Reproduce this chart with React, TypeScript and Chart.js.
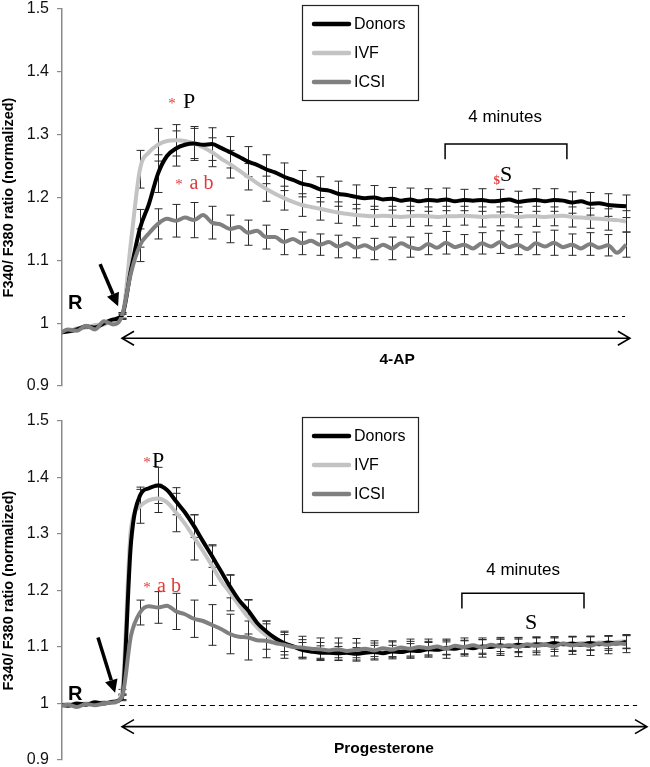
import React, { useEffect, useRef } from "react";
import { Chart, registerables } from "chart.js";

Chart.register(...registerables);

// ---------- data ----------
const SERIES = ["Donors", "IVF", "ICSI"];
const COLORS = ["#000000", "#c3c3c3", "#808080"];
const ORDERS = [1, 2, 0];

// time axis (arbitrary units, 3 units per sample)
const TIME = [-21, -18, -15, -12, -9, -6, -3, 0, 3, 6, 9, 12, 15, 18, 21, 24, 27, 30, 33, 36, 39, 42, 45, 48, 51, 54, 57, 60, 63, 66, 69, 72, 75, 78, 81, 84, 87, 90, 93, 96, 99, 102, 105, 108, 111, 114, 117, 120, 123, 126, 129, 132, 135, 138, 141, 144, 147, 150, 153, 156, 159, 162, 165, 168];
// times at which error bars are shown
const ERR_TIME = [0, 6, 12, 18, 24, 30, 36, 42, 48, 54, 60, 66, 72, 78, 84, 90, 96, 102, 108, 114, 120, 126, 132, 138, 144, 150, 156, 162, 168];

const Y_MIN = 0.9;
const Y_MAX = 1.5;
const Y_STEP = 0.1;

// ----- panel A (4-AP) -----
const TOP_DONORS = [0.985, 0.987, 0.99, 0.995, 0.993, 1.0, 1.006, 1.012,
  1.085, 1.151, 1.19, 1.238, 1.266, 1.278, 1.284, 1.286, 1.284, 1.285,
  1.279, 1.272, 1.265, 1.257, 1.252, 1.245, 1.24, 1.233, 1.228, 1.222,
  1.219, 1.213, 1.211, 1.206, 1.204, 1.201, 1.199, 1.2, 1.197, 1.198,
  1.195, 1.197, 1.194, 1.196, 1.195, 1.197, 1.194, 1.196, 1.195, 1.196,
  1.194, 1.195, 1.197, 1.193, 1.195, 1.196, 1.194, 1.196, 1.195, 1.192,
  1.194, 1.19, 1.191, 1.188, 1.187, 1.186];
const TOP_IVF = [0.988, 0.986, 0.992, 0.993, 0.997, 0.998, 1.004, 1.01,
  1.13, 1.245, 1.272, 1.284, 1.29, 1.291, 1.29, 1.286, 1.28, 1.272,
  1.262, 1.253, 1.243, 1.233, 1.223, 1.214, 1.206, 1.199, 1.193, 1.188,
  1.185, 1.182, 1.179, 1.176, 1.174, 1.172,
  1.171, 1.17, 1.171, 1.17, 1.169, 1.17, 1.171, 1.17, 1.169, 1.17,
  1.17, 1.171, 1.17, 1.169, 1.17, 1.17, 1.171, 1.169, 1.17, 1.17,
  1.169, 1.17, 1.171, 1.169, 1.168, 1.167, 1.166, 1.165, 1.164, 1.162];
const TOP_ICSI = [0.983, 0.99, 0.988, 0.996, 0.99, 1.003, 0.998, 1.012,
  1.08, 1.124, 1.143, 1.158, 1.166, 1.163, 1.168, 1.164, 1.172, 1.16,
  1.157, 1.15, 1.153, 1.144, 1.147, 1.137, 1.137, 1.129, 1.134, 1.127,
  1.131, 1.125, 1.129, 1.122, 1.127, 1.12, 1.124, 1.118, 1.125, 1.119,
  1.127, 1.121, 1.118, 1.126, 1.12, 1.128, 1.121, 1.125, 1.119, 1.127,
  1.122, 1.129, 1.121, 1.125, 1.118, 1.127, 1.122, 1.128, 1.121, 1.125,
  1.119, 1.126, 1.12, 1.124, 1.112, 1.125];
const TOP_DONORS_ERR = [0.004, 0.03, 0.03, 0.028, 0.027, 0.026, 0.025, 0.024, 0.023, 0.022, 0.021, 0.02, 0.02, 0.019, 0.019, 0.018, 0.018, 0.018, 0.018, 0.017, 0.018, 0.018, 0.017, 0.018, 0.018, 0.017, 0.018, 0.018, 0.018];
const TOP_IVF_ERR = [0.004, 0.03, 0.026, 0.025, 0.024, 0.023, 0.022, 0.021, 0.02, 0.019, 0.018, 0.018, 0.017, 0.017, 0.016, 0.016, 0.016, 0.015, 0.016, 0.015, 0.016, 0.015, 0.016, 0.016, 0.015, 0.016, 0.016, 0.017, 0.017];
const TOP_ICSI_ERR = [0.005, 0.026, 0.024, 0.026, 0.028, 0.026, 0.022, 0.02, 0.019, 0.02, 0.018, 0.017, 0.018, 0.016, 0.017, 0.018, 0.016, 0.017, 0.018, 0.016, 0.017, 0.018, 0.016, 0.018, 0.02, 0.017, 0.018, 0.017, 0.02];

// ----- panel B (Progesterone) -----
const BOT_DONORS = [0.998, 0.996, 1.0, 0.998, 1.002, 1.0, 1.003, 1.01,
  1.285, 1.368, 1.381, 1.386, 1.378, 1.358, 1.338, 1.314, 1.287, 1.261,
  1.234, 1.207, 1.183, 1.165, 1.143, 1.128, 1.116, 1.107, 1.101, 1.095,
  1.092, 1.09, 1.09, 1.089, 1.09, 1.088, 1.09, 1.091, 1.089, 1.092,
  1.091, 1.094, 1.093, 1.096, 1.095, 1.098, 1.097, 1.1, 1.098, 1.101,
  1.1, 1.103, 1.101, 1.104, 1.102, 1.105, 1.104, 1.107, 1.105, 1.106,
  1.104, 1.107, 1.105, 1.108, 1.106, 1.109];
const BOT_IVF = [0.997, 0.999, 0.997, 1.0, 0.999, 1.002, 1.001, 1.02,
  1.31, 1.349, 1.36, 1.363, 1.356, 1.338, 1.318, 1.294, 1.27, 1.244,
  1.217, 1.196, 1.174, 1.153, 1.135, 1.121, 1.112, 1.106, 1.101, 1.097,
  1.095, 1.094, 1.093, 1.094, 1.092, 1.094, 1.093, 1.095, 1.094, 1.096,
  1.095, 1.097, 1.096, 1.098, 1.097, 1.099, 1.1, 1.099, 1.101, 1.1,
  1.102, 1.101, 1.103, 1.102, 1.104, 1.103, 1.105, 1.104, 1.106, 1.105,
  1.107, 1.106, 1.108, 1.107, 1.109, 1.11];
const BOT_ICSI = [0.995, 0.998, 0.994, 0.999, 0.997, 1.0, 1.002, 1.012,
  1.12, 1.161, 1.172, 1.17, 1.173, 1.163, 1.158, 1.15, 1.146, 1.139,
  1.132, 1.123, 1.118, 1.117, 1.112, 1.111, 1.107, 1.104, 1.1, 1.099,
  1.097, 1.096, 1.094, 1.096, 1.093, 1.095, 1.097, 1.094, 1.098, 1.095,
  1.099, 1.097, 1.1, 1.098, 1.101, 1.097, 1.102, 1.1, 1.103, 1.099,
  1.104, 1.101, 1.103, 1.1, 1.105, 1.102, 1.104, 1.101, 1.106, 1.103,
  1.105, 1.102, 1.106, 1.104, 1.107, 1.105];
const BOT_DONORS_ERR = [0.005, 0.015, 0.032, 0.024, 0.02, 0.02, 0.02, 0.019, 0.018, 0.015, 0.013, 0.012, 0.012, 0.011, 0.012, 0.011, 0.012, 0.012, 0.011, 0.012, 0.012, 0.011, 0.012, 0.012, 0.011, 0.012, 0.012, 0.011, 0.012];
const BOT_IVF_ERR = [0.005, 0.03, 0.025, 0.034, 0.04, 0.035, 0.032, 0.03, 0.025, 0.02, 0.016, 0.014, 0.013, 0.013, 0.012, 0.013, 0.013, 0.012, 0.013, 0.012, 0.013, 0.013, 0.012, 0.013, 0.012, 0.013, 0.012, 0.013, 0.012];
const BOT_ICSI_ERR = [0.005, 0.022, 0.028, 0.032, 0.033, 0.036, 0.035, 0.04, 0.03, 0.024, 0.02, 0.02, 0.02, 0.02, 0.017, 0.016, 0.017, 0.016, 0.017, 0.016, 0.017, 0.016, 0.017, 0.016, 0.017, 0.016, 0.017, 0.016, 0.015];

// ---------- styling ----------
const RED = "#e03a3a";
const SERIF = "'Liberation Serif', 'Times New Roman', serif";
const SANS = "'Liberation Sans', Arial, sans-serif";

type Note = { text: string; t: number; v: number; color: string; font: string; align: CanvasTextAlign };
type PanelCfg = {
  series: number[][];
  errors: number[][];
  notes: Note[];
  bracket: { t1: number; t2: number; v: number; vDrop: number };
  dashed: { t1: number; t2: number; v: number };
  span: { t1: number; t2: number; v: number };
  pointer: { t1: number; v1: number; t2: number; v2: number };
  padTop: number;
  padBottom: number;
};

const TOP_CFG: PanelCfg = {
  series: [TOP_DONORS, TOP_IVF, TOP_ICSI],
  errors: [TOP_DONORS_ERR, TOP_IVF_ERR, TOP_ICSI_ERR],
  notes: [
    { text: "*", t: 16.7, v: 1.342, color: RED, font: `15px ${SERIF}`, align: "center" },
    { text: "P", t: 20.3, v: 1.342, color: "#000", font: `22px ${SERIF}`, align: "left" },
    { text: "*", t: 19, v: 1.213, color: RED, font: `15px ${SERIF}`, align: "center" },
    { text: "a b", t: 22.5, v: 1.213, color: RED, font: `20px ${SERIF}`, align: "left" },
    { text: "4 minutes", t: 127.7, v: 1.32, color: "#000", font: `17px ${SANS}`, align: "center" },
    { text: "$", t: 126, v: 1.222, color: RED, font: `bold 13px ${SERIF}`, align: "right" },
    { text: "S", t: 126, v: 1.226, color: "#000", font: `22px ${SERIF}`, align: "left" },
    { text: "4-AP", t: 91.7, v: 0.935, color: "#000", font: `bold 15.5px ${SANS}`, align: "center" },
    { text: "R", t: -18, v: 1.022, color: "#000", font: `bold 20px ${SANS}`, align: "left" },
  ],
  bracket: { t1: 107.7, t2: 148.3, v: 1.285, vDrop: 1.261 },
  dashed: { t1: -1.3, t2: 167.7, v: 1.011 },
  span: { t1: 0, t2: 169.3, v: 0.976 },
  pointer: { t1: -7.3, v1: 1.094, t2: -1.3, v2: 1.027 },
  padTop: 9,
  padBottom: 8,
};

const BOT_CFG: PanelCfg = {
  series: [BOT_DONORS, BOT_IVF, BOT_ICSI],
  errors: [BOT_DONORS_ERR, BOT_IVF_ERR, BOT_ICSI_ERR],
  notes: [
    { text: "*", t: 8.3, v: 1.419, color: RED, font: `15px ${SERIF}`, align: "center" },
    { text: "P", t: 10, v: 1.419, color: "#000", font: `22px ${SERIF}`, align: "left" },
    { text: "*", t: 8.3, v: 1.198, color: RED, font: `15px ${SERIF}`, align: "center" },
    { text: "a b", t: 11.7, v: 1.198, color: RED, font: `20px ${SERIF}`, align: "left" },
    { text: "4 minutes", t: 133.7, v: 1.228, color: "#000", font: `17px ${SANS}`, align: "center" },
    { text: "S", t: 134.3, v: 1.131, color: "#000", font: `22px ${SERIF}`, align: "left" },
    { text: "Progesterone", t: 87.3, v: 0.913, color: "#000", font: `bold 15.5px ${SANS}`, align: "center" },
    { text: "R", t: -18, v: 1.007, color: "#000", font: `bold 20px ${SANS}`, align: "left" },
  ],
  bracket: { t1: 113.3, t2: 154, v: 1.195, vDrop: 1.168 },
  dashed: { t1: -0.7, t2: 171.7, v: 0.997 },
  span: { t1: 0, t2: 175, v: 0.959 },
  pointer: { t1: -8, v1: 1.117, t2: -2.3, v2: 1.019 },
  padTop: 27,
  padBottom: 7,
};

function makeOverlay(cfg: PanelCfg) {
  return {
    id: "overlay",
    beforeDatasetsDraw(chart: any) {
      const ctx = chart.ctx;
      const xs = chart.scales.x;
      const ys = chart.scales.y;
      ctx.save();
      ctx.strokeStyle = "#2a2a2a";
      ctx.lineWidth = 1;
      cfg.errors.forEach((errs, si) => {
        const data = cfg.series[si];
        ERR_TIME.forEach((t, k) => {
          const i = TIME.indexOf(t);
          if (i < 0) return;
          const v = data[i];
          const e = errs[k];
          const x = Math.round(xs.getPixelForValue(t)) + 0.5;
          const y1 = ys.getPixelForValue(v - e);
          const y2 = ys.getPixelForValue(v + e);
          ctx.beginPath();
          ctx.moveTo(x, y1);
          ctx.lineTo(x, y2);
          ctx.moveTo(x - 4, y1);
          ctx.lineTo(x + 4, y1);
          ctx.moveTo(x - 4, y2);
          ctx.lineTo(x + 4, y2);
          ctx.stroke();
        });
      });
      ctx.restore();
    },
    afterDatasetsDraw(chart: any) {
      const ctx = chart.ctx;
      const xs = chart.scales.x;
      const ys = chart.scales.y;
      const X = (t: number) => xs.getPixelForValue(t);
      const Y = (v: number) => ys.getPixelForValue(v);
      const ca = chart.chartArea;
      ctx.save();

      // dashed reference line
      ctx.strokeStyle = "#000";
      ctx.lineWidth = 1;
      ctx.setLineDash([5, 4]);
      ctx.beginPath();
      const dy = Math.round(Y(cfg.dashed.v)) + 0.5;
      ctx.moveTo(X(cfg.dashed.t1), dy);
      ctx.lineTo(X(cfg.dashed.t2), dy);
      ctx.stroke();
      ctx.setLineDash([]);

      // double-headed span arrow
      const sy = Y(cfg.span.v);
      const sx1 = X(cfg.span.t1);
      const sx2 = X(cfg.span.t2);
      ctx.lineWidth = 1.6;
      ctx.beginPath();
      ctx.moveTo(sx1, sy);
      ctx.lineTo(sx2, sy);
      ctx.moveTo(sx1 + 12, sy - 7);
      ctx.lineTo(sx1, sy);
      ctx.lineTo(sx1 + 12, sy + 7);
      ctx.moveTo(sx2 - 12, sy - 7);
      ctx.lineTo(sx2, sy);
      ctx.lineTo(sx2 - 12, sy + 7);
      ctx.stroke();

      // bracket
      const b = cfg.bracket;
      ctx.lineWidth = 1.5;
      ctx.beginPath();
      ctx.moveTo(X(b.t1), Y(b.vDrop));
      ctx.lineTo(X(b.t1), Y(b.v));
      ctx.lineTo(X(b.t2), Y(b.v));
      ctx.lineTo(X(b.t2), Y(b.vDrop));
      ctx.stroke();

      // pointer arrow
      const p = cfg.pointer;
      const x1 = X(p.t1), y1 = Y(p.v1), x2 = X(p.t2), y2 = Y(p.v2);
      const ang = Math.atan2(y2 - y1, x2 - x1);
      const hl = 13, hw = 6.5;
      const bx = x2 - hl * Math.cos(ang), by = y2 - hl * Math.sin(ang);
      ctx.lineWidth = 3.5;
      ctx.beginPath();
      ctx.moveTo(x1, y1);
      ctx.lineTo(bx, by);
      ctx.stroke();
      ctx.fillStyle = "#000";
      ctx.beginPath();
      ctx.moveTo(x2, y2);
      ctx.lineTo(bx + hw * Math.sin(ang), by - hw * Math.cos(ang));
      ctx.lineTo(bx - hw * Math.sin(ang), by + hw * Math.cos(ang));
      ctx.closePath();
      ctx.fill();

      // text notes
      ctx.textBaseline = "alphabetic";
      cfg.notes.forEach((n) => {
        ctx.font = n.font;
        ctx.fillStyle = n.color;
        ctx.textAlign = n.align;
        ctx.fillText(n.text, X(n.t), Y(n.v));
      });

      // legend box
      const lx = ca.left + 240;
      const ly = ca.top - 4;
      ctx.fillStyle = "#fff";
      ctx.fillRect(lx, ly, 116, 95);
      ctx.strokeStyle = "#222";
      ctx.lineWidth = 1.2;
      ctx.strokeRect(lx + 0.5, ly + 0.5, 116, 95);
      const rows = [19, 48, 77];
      SERIES.forEach((name, i) => {
        const ry = ly + rows[i];
        ctx.strokeStyle = COLORS[i];
        ctx.lineWidth = 4.5;
        ctx.lineCap = "round";
        ctx.beginPath();
        ctx.moveTo(lx + 12, ry);
        ctx.lineTo(lx + 47, ry);
        ctx.stroke();
        ctx.fillStyle = "#000";
        ctx.font = `16px ${SANS}`;
        ctx.textAlign = "left";
        ctx.textBaseline = "middle";
        ctx.fillText(name, lx + 52, ry + 1);
      });
      ctx.restore();
    },
  };
}

function Panel({ cfg, top, height }: { cfg: PanelCfg; top: number; height: number }) {
  const ref = useRef<HTMLCanvasElement | null>(null);
  useEffect(() => {
    if (!ref.current) return;
    const chart = new Chart(ref.current, {
      type: "line",
      data: {
        datasets: SERIES.map((name, i) => ({
          label: name,
          data: TIME.map((t, j) => ({ x: t, y: cfg.series[i][j] })),
          borderColor: COLORS[i],
          backgroundColor: COLORS[i],
          borderWidth: 4,
          pointRadius: 0,
          fill: false,
          cubicInterpolationMode: "monotone" as const,
          order: ORDERS[i],
        })),
      },
      options: {
        animation: false,
        responsive: true,
        maintainAspectRatio: false,
        layout: { autoPadding: false, padding: { left: 0, right: 18, top: cfg.padTop, bottom: cfg.padBottom } },
        plugins: { legend: { display: false }, tooltip: { enabled: false } },
        scales: {
          x: { type: "linear", min: -20, max: 170, display: false },
          y: {
            min: Y_MIN,
            max: Y_MAX,
            afterFit: (s: any) => {
              s.width = 62;
              s.paddingTop = 0;
              s.paddingBottom = 0;
            },
            ticks: {
              stepSize: Y_STEP,
              color: "#111",
              padding: 8,
              font: { family: SANS, size: 16, lineHeight: 1 },
              callback: (v: any) => String(Number(Number(v).toFixed(1))),
            },
            grid: { display: true, drawOnChartArea: false, drawTicks: true, tickLength: 5, color: "#8a8a8a", lineWidth: 1.2 },
            border: { display: true, color: "#8a8a8a", width: 1.5 },
            title: {
              display: true,
              text: "F340/ F380 ratio (normalized)",
              color: "#000",
              font: { family: SANS, size: 14.5, weight: "bold" },
              padding: { top: 0, bottom: 0 },
            },
          },
        },
      } as any,
      plugins: [makeOverlay(cfg)],
    });
    return () => chart.destroy();
  }, [cfg]);
  return (
    <div style={{ position: "absolute", left: 0, top, width: 650, height }}>
      <canvas ref={ref} />
    </div>
  );
}

export default function App() {
  return (
    <div style={{ position: "absolute", left: 0, top: 0, width: 650, height: 767, background: "#fff", overflow: "hidden" }}>
      <Panel cfg={TOP_CFG} top={0} height={394} />
      <Panel cfg={BOT_CFG} top={394} height={373} />
    </div>
  );
}
